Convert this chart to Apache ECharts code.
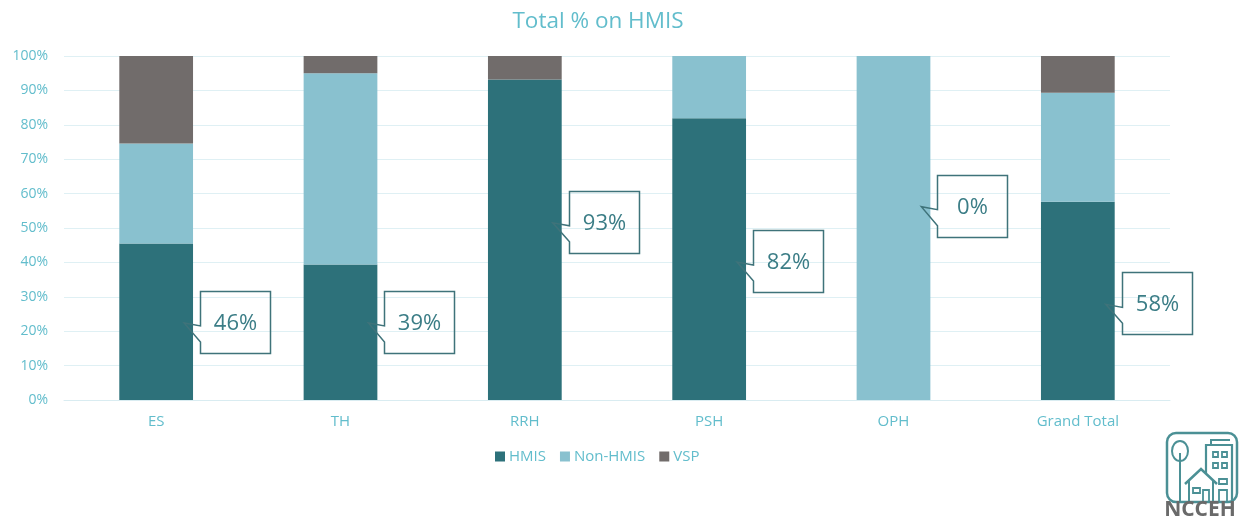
<!DOCTYPE html>
<html>
<head>
<meta charset="utf-8">
<script src="https://cdn.jsdelivr.net/npm/echarts@6/dist/echarts.min.js"></script>
<style>
html,body{margin:0;padding:0;background:#fff;}
#chart{width:1246px;height:523px;}
</style>
</head>
<body>
<div id="chart"></div>
<script>
// ---- data ----
var categories = ['ES', 'TH', 'RRH', 'PSH', 'OPH', 'Grand Total'];
var hmis    = [45.5, 39.4, 93.2, 81.9, 0,   57.6];
var nonHmis = [29.1, 55.6, 0,    18.1, 100, 31.7];
var vsp     = [25.4, 5.0,  6.8,  0,    0,   10.7];
var yTicks  = [0, 10, 20, 30, 40, 50, 60, 70, 80, 90, 100];

// ---- layout of the callouts (axis units, placement only) ----
var calloutAnchorPct = [22.4, 22.4, 51.5, 40.1, 56.2, 27.8];

var C_HMIS = '#2d717a', C_NON = '#89c1cf', C_VSP = '#716c6b';
var TXT = '#62bdcc';
var FONT = '"Open Sans", "Noto Sans", sans-serif';

var calloutData = categories.map(function (c, i) {
  return [i, calloutAnchorPct[i], Math.round(hmis[i]) + '%'];
});

var chart = echarts.init(document.getElementById('chart'), null, {renderer: 'canvas'});
var option = {
  animation: false,
  backgroundColor: '#ffffff',
  textStyle: {fontFamily: FONT},
  title: {
    text: 'Total % on HMIS',
    left: 593, top: 5, textAlign: 'center',
    textStyle: {color: TXT, fontSize: 22.5, fontWeight: 'normal', fontFamily: FONT}
  },
  legend: {
    data: ['HMIS', 'Non-HMIS', 'VSP'],
    left: 490, top: 444,
    icon: 'rect', itemWidth: 10, itemHeight: 10, itemGap: 14,
    textStyle: {color: TXT, fontSize: 15, fontFamily: FONT, padding: [0, 0, 0, -1]}
  },
  grid: {left: 64, right: 76, top: 56, bottom: 123, containLabel: false},
  xAxis: {
    type: 'category', data: categories,
    axisLine: {lineStyle: {color: '#d9ecf1'}},
    axisTick: {show: false},
    axisLabel: {color: TXT, fontSize: 15, margin: 14, fontFamily: FONT}
  },
  yAxis: {
    type: 'value', min: yTicks[0], max: yTicks[yTicks.length - 1], interval: 10,
    axisLine: {show: false}, axisTick: {show: false},
    splitLine: {lineStyle: {color: '#dff0f4', width: 1}},
    axisLabel: {color: TXT, fontSize: 14, margin: 16, fontFamily: FONT,
      formatter: function (v) { return v + '%'; }}
  },
  series: [
    {name: 'HMIS', type: 'bar', stack: 'tot', data: hmis, barWidth: '40%',
      itemStyle: {color: C_HMIS}},
    {name: 'Non-HMIS', type: 'bar', stack: 'tot', data: nonHmis, barWidth: '40%',
      itemStyle: {color: C_NON}},
    {name: 'VSP', type: 'bar', stack: 'tot', data: vsp, barWidth: '40%',
      itemStyle: {color: C_VSP}},
    {
      name: 'callouts', type: 'custom', data: calloutData, z: 10,
      renderItem: function (params, api) {
        var i = api.value(0);
        var p = api.coord([i, api.value(1)]);
        var bw = api.size([1, 0])[0];
        var half = bw * 0.2;
        var tipX = p[0] + half - 9, tipY = p[1];
        var bx = Math.round(p[0] + half + 7) + 0.5, by = Math.round(tipY - 32) + 0.5;
        var w = 70, h = 62;
        return {
          type: 'group',
          children: [
            {type: 'polygon',
              shape: {points: [[bx, by], [bx + w, by], [bx + w, by + h], [bx, by + h],
                [bx, tipY + 19], [tipX, tipY], [bx, tipY + 3]]},
              style: {fill: null, stroke: '#3f737a', lineWidth: 1.5}},
            {type: 'text',
              style: {text: calloutData[params.dataIndex][2], x: bx + w / 2, y: by + h / 2 + 1,
                align: 'center', verticalAlign: 'middle', fill: '#3b7d86',
                font: '22px ' + FONT}}
          ]
        };
      }
    }
  ],
  graphic: [
    {
      type: 'group', x: 1160, y: 431,
      children: [
        {type: 'rect', shape: {x: 7, y: 2, width: 70, height: 69, r: 9},
          style: {fill: null, stroke: '#4b9095', lineWidth: 2.5}},
        // tree
        {type: 'ellipse', shape: {cx: 20, cy: 20, rx: 8, ry: 10}, style: {fill: null, stroke: '#4b9095', lineWidth: 2}},
        {type: 'line', shape: {x1: 20, y1: 22, x2: 20, y2: 71}, style: {stroke: '#4b9095', lineWidth: 2}},
        // house
        {type: 'polyline', shape: {points: [[25, 53], [41, 38], [57, 53]]}, style: {stroke: '#4b9095', lineWidth: 2.5, fill: null}},
        {type: 'polyline', shape: {points: [[29, 50], [29, 71]]}, style: {stroke: '#4b9095', lineWidth: 2}},
        {type: 'polyline', shape: {points: [[53, 50], [53, 71]]}, style: {stroke: '#4b9095', lineWidth: 2}},
        {type: 'rect', shape: {x: 33, y: 57, width: 7, height: 5}, style: {fill: null, stroke: '#4b9095', lineWidth: 1.8}},
        {type: 'rect', shape: {x: 43, y: 59, width: 6, height: 12}, style: {fill: null, stroke: '#4b9095', lineWidth: 1.8}},
        // building
        {type: 'polyline', shape: {points: [[46, 42], [46, 14], [72, 14], [72, 71]]}, style: {stroke: '#4b9095', lineWidth: 2.2, fill: null}},
        {type: 'polyline', shape: {points: [[51, 14], [51, 9], [70, 9]]}, style: {stroke: '#4b9095', lineWidth: 2, fill: null}},
        {type: 'rect', shape: {x: 53, y: 21, width: 5, height: 5}, style: {fill: null, stroke: '#4b9095', lineWidth: 1.8}},
        {type: 'rect', shape: {x: 62, y: 21, width: 5, height: 5}, style: {fill: null, stroke: '#4b9095', lineWidth: 1.8}},
        {type: 'rect', shape: {x: 53, y: 32, width: 5, height: 5}, style: {fill: null, stroke: '#4b9095', lineWidth: 1.8}},
        {type: 'rect', shape: {x: 62, y: 32, width: 5, height: 5}, style: {fill: null, stroke: '#4b9095', lineWidth: 1.8}},
        {type: 'rect', shape: {x: 59, y: 48, width: 8, height: 5}, style: {fill: null, stroke: '#4b9095', lineWidth: 1.8}},
        {type: 'rect', shape: {x: 59, y: 59, width: 8, height: 12}, style: {fill: null, stroke: '#4b9095', lineWidth: 1.8}},
        {type: 'text', style: {text: 'NCCEH', x: 40, y: 79, align: 'center', verticalAlign: 'middle', fill: '#6a6a6a',
          font: 'bold 21px "Open Sans", "Noto Sans", sans-serif'}}
      ]
    }
  ]
};
chart.setOption(option);
</script>
</body>
</html>
